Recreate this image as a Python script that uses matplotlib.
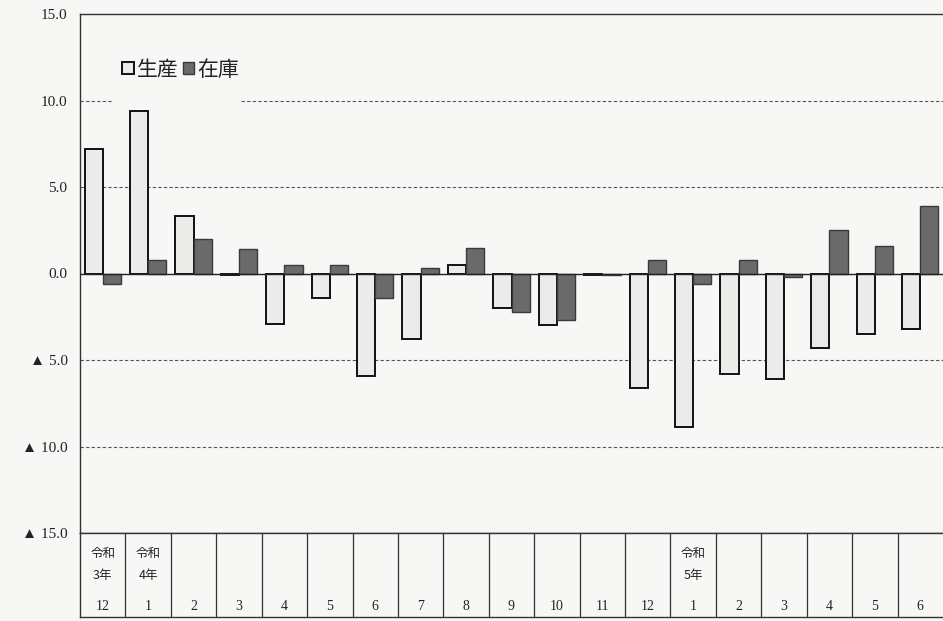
import matplotlib
matplotlib.use('Agg')
import matplotlib.pyplot as plt
import numpy as np
from matplotlib.patches import Patch, Rectangle

# ---- data ----
months = ['12', '1', '2', '3', '4', '5', '6', '7', '8', '9', '10', '11',
          '12', '1', '2', '3', '4', '5', '6']
year_labels = {0: '令和\n3年', 1: '令和\n4年', 13: '令和\n5年'}
production = [7.2, 9.4, 3.3, -0.1, -2.9, -1.4, -5.9, -3.8, 0.5, -2.0, -3.0,
              -0.1, -6.6, -8.9, -5.8, -6.1, -4.3, -3.5, -3.2]
inventory = [-0.6, 0.8, 2.0, 1.4, 0.5, 0.5, -1.4, 0.3, 1.5, -2.2, -2.7,
             -0.1, 0.8, -0.6, 0.8, -0.2, 2.5, 1.6, 3.9]
yticks = [15, 10, 5, 0, -5, -10, -15]
ytick_labels = ['15.0', '10.0', '5.0', '0.0', '▲ 5.0', '▲ 10.0', '▲ 15.0']
series_names = ['生産', '在庫']

BG = '#f7f7f5'
LIGHT = '#ebebea'
DARK = '#6a6a6a'
SERIF = ['Liberation Serif', 'DejaVu Sans']
JP = ['Noto Sans CJK JP', 'DejaVu Sans']

fig = plt.figure(figsize=(9.43, 6.21), dpi=100, facecolor=BG)
ax = fig.add_axes([80 / 943, 88 / 621, 863 / 943, 519 / 621], facecolor=BG)

x = np.arange(len(months))
w = 0.4
ax.bar(x - w / 2, production, width=w, color=LIGHT, edgecolor='#111111',
       linewidth=1.4, zorder=3, label=series_names[0])
ax.bar(x + w / 2, inventory, width=w, color=DARK, edgecolor='#3a3a3a',
       linewidth=1.0, zorder=3, label=series_names[1])

ax.set_xlim(-0.5, len(months) - 0.5)
ax.set_ylim(-15, 15)
ax.set_yticks(yticks)
ax.set_yticklabels(ytick_labels, family=SERIF, fontsize=11, color='#222222')
ax.tick_params(axis='y', length=0, pad=9)
ax.set_xticks([])

for g in [10, 5, -5, -10]:
    ax.axhline(g, color='#555555', lw=0.8, ls=(0, (3, 2)), zorder=1)
ax.axhline(0, color='#222222', lw=1.0, zorder=4)

ax.spines['right'].set_visible(False)
for s in ['left', 'top', 'bottom']:
    ax.spines[s].set_color('#333333')
    ax.spines[s].set_linewidth(1.0)

# blank area behind legend (gridline gap)
ax.add_patch(Rectangle((0.038, 0.80), 0.147, 0.12, transform=ax.transAxes,
                       facecolor=BG, edgecolor='none', zorder=2))

handles = [Patch(facecolor=LIGHT, edgecolor='#111111', linewidth=1.4),
           Patch(facecolor=DARK, edgecolor='#3a3a3a', linewidth=1.0)]
leg = ax.legend(handles, series_names, loc='center left',
                bbox_to_anchor=(0.049, 0.893), ncol=2, frameon=False,
                handlelength=0.55, handleheight=0.55, handletextpad=0.15,
                columnspacing=0.2, borderpad=0, borderaxespad=0,
                prop={'family': JP, 'size': 15})
leg.set_zorder(5)
for t in leg.get_texts():
    t.set_color('#222222')

# ---- category table below ----
tab = fig.add_axes([80 / 943, 4 / 621, 863 / 943, 84 / 621], facecolor=BG)
tab.set_xlim(ax.get_xlim())
tab.set_ylim(0, 1)
tab.set_xticks([])
tab.set_yticks([])
tab.spines['right'].set_visible(False)
for s in ['left', 'top', 'bottom']:
    tab.spines[s].set_color('#333333')
    tab.spines[s].set_linewidth(1.0)
for i in range(len(months) - 1):
    tab.axvline(i + 0.5, color='#333333', lw=0.9)
for i, m in enumerate(months):
    tab.text(i, 0.13, m, ha='center', va='center', family=SERIF,
             fontsize=10, color='#222222')
    if i in year_labels:
        tab.text(i, 0.625, year_labels[i], ha='center', va='center',
                 family=JP, fontsize=9, color='#222222', linespacing=1.85)

fig.savefig('out.png', dpi=100, facecolor=BG)
